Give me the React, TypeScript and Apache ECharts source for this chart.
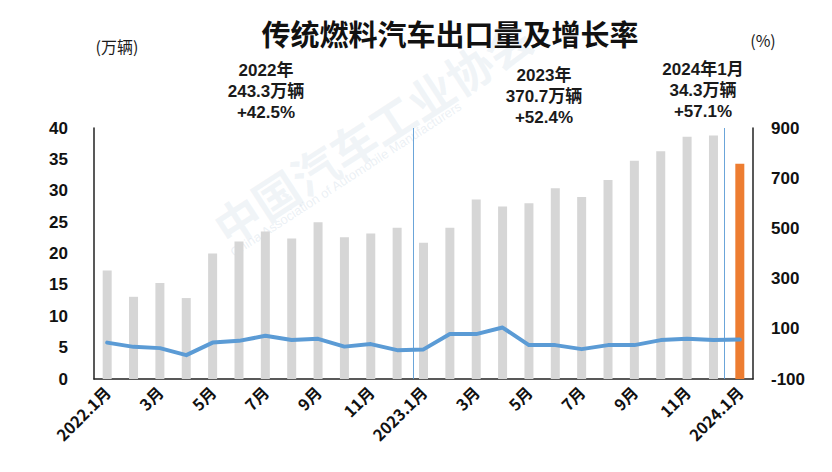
import React, { useEffect, useRef } from "react";
import * as echarts from "echarts";

const months = [
  "2022.1月", "2月", "3月", "4月", "5月", "6月", "7月", "8月", "9月", "10月", "11月", "12月",
  "2023.1月", "2月", "3月", "4月", "5月", "6月", "7月", "8月", "9月", "10月", "11月", "12月",
  "2024.1月",
];
// export volume, 10k vehicles
const volumes = [
  17.3, 13.1, 15.3, 12.9, 20.0, 21.9, 23.5, 22.4, 25.0, 22.6, 23.2, 24.1,
  21.7, 24.1, 28.6, 27.5, 28.0, 30.4, 29.0, 31.7, 34.8, 36.3, 38.6, 38.8,
  34.3,
];
// year-on-year growth, %
const growth = [
  45, 28, 23, -5, 45, 52, 72, 55, 60, 29, 39, 15,
  18, 79, 79, 105, 35, 35, 19, 35, 35, 55, 60, 55,
  57,
];
const rateTicks = [-100, 100, 300, 500, 700, 900];
const dividers = [12.1, 23.9];
const notes = [
  ["2022年", "243.3万辆", "+42.5%"],
  ["2023年", "370.7万辆", "+52.4%"],
  ["2024年1月", "34.3万辆", "+57.1%"],
];

const FONT = '"Liberation Sans", "Noto Sans CJK SC", sans-serif';
const CJK = '"Noto Sans CJK SC", "Liberation Sans", sans-serif';
const GRAY = "#d6d6d6";
const ORANGE = "#ed7d31";
const BLUE = "#5b9bd5";

export default function App() {
  const ref = useRef<HTMLDivElement>(null);
  useEffect(() => {
    if (!ref.current) return;
    const chart = echarts.init(ref.current, undefined, { renderer: "svg" });
    const notePos = [
      [266, 70],
      [544, 75],
      [703, 69],
    ];
    const graphics: any[] = [];
    // faint watermark
    graphics.push({
      type: "text",
      x: 205,
      y: 212,
      rotation: (33 * Math.PI) / 180,
      silent: true,
      z: -10,
      style: { text: "中国汽车工业协会", fontSize: 46, fontWeight: "bold", fontFamily: CJK, fill: "rgba(190,205,222,0.22)" },
    });
    graphics.push({
      type: "text",
      x: 228,
      y: 248,
      rotation: (33 * Math.PI) / 180,
      silent: true,
      z: -10,
      style: { text: "China Association of Automobile Manufacturers", fontSize: 13, fontFamily: FONT, fill: "rgba(190,205,222,0.3)" },
    });
    notes.forEach((lines, i) => {
      lines.forEach((line, j) => {
        graphics.push({
          type: "text",
          x: notePos[i][0],
          y: notePos[i][1] + j * 21,
          style: {
            text: line,
            fontSize: 17,
            fontWeight: "bold",
            fontFamily: FONT,
            fill: "#1a1a1a",
            align: "center",
            verticalAlign: "middle",
          },
        });
      });
    });
    graphics.push({
      type: "text",
      x: 117,
      y: 46,
      style: { text: "(万辆)", fontSize: 16, fontFamily: CJK, fill: "#1a1a1a", align: "center", verticalAlign: "middle" },
    });
    graphics.push({
      type: "text",
      x: 763,
      y: 40,
      style: { text: "(%)", fontSize: 16, fontFamily: CJK, fill: "#1a1a1a", align: "center", verticalAlign: "middle" },
    });

    chart.setOption({
      animation: false,
      backgroundColor: "#ffffff",
      title: {
        text: "传统燃料汽车出口量及增长率",
        left: 445,
        top: 13,
        textAlign: "center",
        textStyle: { fontSize: 29, fontWeight: "bold", fontFamily: CJK, color: "#111" },
      },
      graphic: graphics,
      grid: { left: 94, right: 79, top: 128, bottom: 93 },
      xAxis: [
        {
          type: "category",
          data: months,
          axisLine: { show: true, lineStyle: { color: "#222", width: 1.5 } },
          axisTick: { show: false },
          axisLabel: {
            interval: 1,
            rotate: 45,
            margin: 10,
            fontSize: 16,
            fontWeight: "bold",
            fontFamily: CJK,
            color: "#111",
          },
        },
        {
          type: "value",
          min: 0,
          max: months.length,
          show: false,
        },
      ],
      yAxis: [
        {
          type: "value",
          min: 0,
          max: 40,
          interval: 5,
          axisLine: { show: true, lineStyle: { color: "#222", width: 1.5 } },
          axisTick: { show: false },
          splitLine: { show: false },
          axisLabel: { margin: 26, fontSize: 17, fontWeight: "bold", fontFamily: FONT, color: "#111" },
        },
        {
          type: "value",
          min: -100,
          max: 900,
          position: "right",
          axisLine: { show: true, lineStyle: { color: "#222", width: 1.5 } },
          axisTick: { show: false },
          splitLine: { show: false },
          axisLabel: {
            customValues: rateTicks,
            margin: 18,
            fontSize: 17,
            fontWeight: "bold",
            fontFamily: FONT,
            color: "#111",
          },
        },
      ],
      series: [
        {
          type: "bar",
          xAxisIndex: 0,
          yAxisIndex: 0,
          barWidth: 9,
          data: volumes.map((v, i) =>
            i === volumes.length - 1 ? { value: v, itemStyle: { color: ORANGE } } : v
          ),
          itemStyle: { color: GRAY },
        },
        {
          type: "line",
          xAxisIndex: 0,
          yAxisIndex: 1,
          data: growth,
          showSymbol: false,
          symbol: "none",
          lineStyle: { color: BLUE, width: 4, join: "round", cap: "round" },
          z: 5,
        },
        {
          type: "line",
          xAxisIndex: 1,
          yAxisIndex: 0,
          data: [],
          symbol: "none",
          markLine: {
            silent: true,
            symbol: ["none", "none"],
            label: { show: false },
            lineStyle: { color: BLUE, width: 1, type: "solid", opacity: 0.9 },
            data: dividers.map((d) => ({ xAxis: d })),
          },
        },
      ],
    });
    return () => chart.dispose();
  }, []);
  return (
    <div
      ref={ref}
      style={{ position: "fixed", left: 0, top: 0, width: 832, height: 472, background: "#fff" }}
    />
  );
}
